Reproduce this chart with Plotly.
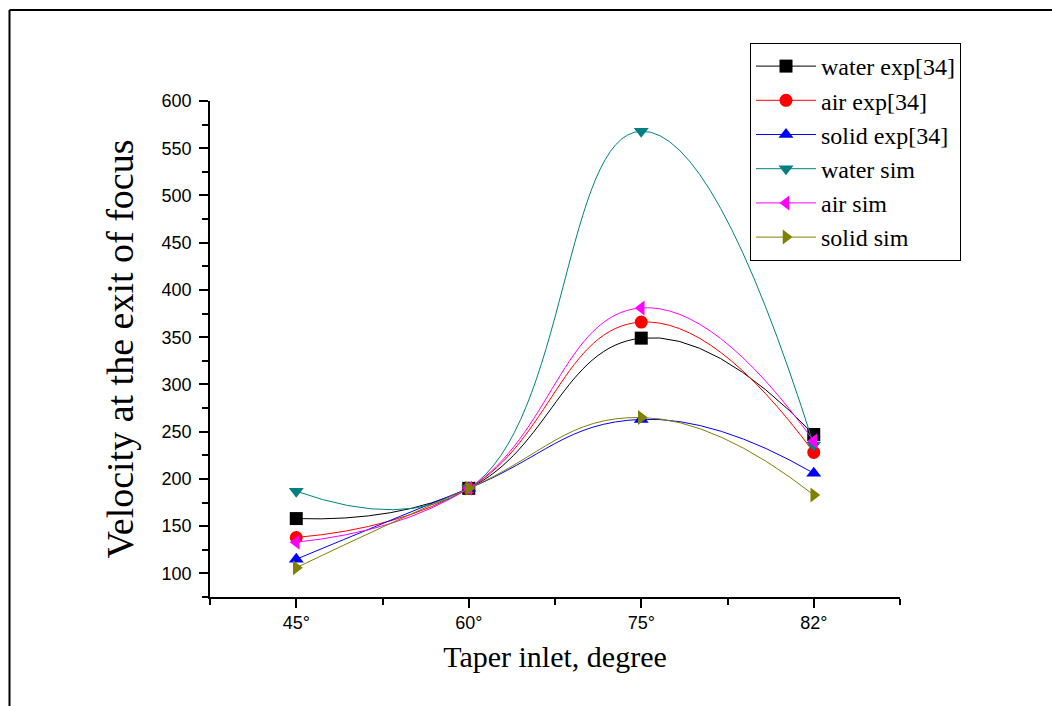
import plotly.graph_objects as go

categories = ["45°", "60°", "75°", "82°"]
x_idx = [0, 1, 2, 3]

water_exp = [158, 190, 349, 247]
air_exp = [138, 190, 366, 228]
solid_exp = [115, 190, 263, 206]
water_sim = [187, 190, 568, 236]
air_sim = [133, 190, 381, 240]
solid_sim = [106, 190, 265, 183]

series = [
    ("water exp[34]", water_exp, "#000000", "square"),
    ("air exp[34]", air_exp, "#FF0000", "circle"),
    ("solid exp[34]", solid_exp, "#0000FF", "triangle-up"),
    ("water sim", water_sim, "#008080", "triangle-down"),
    ("air sim", air_sim, "#FF00FF", "triangle-left"),
    ("solid sim", solid_sim, "#808000", "triangle-right"),
]

fig = go.Figure()
for name, vals, color, sym in series:
    fig.add_trace(go.Scatter(
        x=x_idx, y=vals, name=name, mode="lines+markers",
        line=dict(color=color, width=1, shape="spline", smoothing=1.3),
        marker=dict(color=color, symbol=sym, size=13),
    ))

L, R, T, B = 210, 152, 101, 109
W, H = 1052, 706
pw, ph = W - L - R, H - T - B

fig.update_layout(
    width=W, height=H,
    margin=dict(l=L, r=R, t=T, b=B),
    paper_bgcolor="white", plot_bgcolor="white",
    showlegend=True,
    legend=dict(
        x=(750 - L) / pw, y=(H - B - 43) / ph, xanchor="left", yanchor="top",
        bordercolor="black", borderwidth=1, bgcolor="white",
        font=dict(family="Liberation Serif", size=24, color="black"),
        itemwidth=60, tracegroupgap=0,
    ),
    xaxis=dict(
        range=[-0.5, 3.5], tickmode="array", tickvals=x_idx, ticktext=categories,
        showgrid=False, zeroline=False, showline=True, linecolor="black", linewidth=1.5,
        ticks="outside", ticklen=9, tickwidth=1.5, tickcolor="black",
        minor=dict(tickvals=[-0.5, 0.5, 1.5, 2.5, 3.5], ticks="outside", ticklen=6,
                   tickwidth=1.5, tickcolor="black", showgrid=False),
        tickfont=dict(family="Liberation Sans", size=18, color="black"),
        title=dict(text="Taper inlet, degree",
                   font=dict(family="Liberation Serif", size=30, color="black"),
                   standoff=14),
    ),
    yaxis=dict(
        range=[75, 600], tickmode="array", tickvals=[100, 150, 200, 250, 300, 350, 400, 450, 500, 550, 600],
        showgrid=False, zeroline=False, showline=True, linecolor="black", linewidth=1.5,
        ticks="outside", ticklen=9, tickwidth=1.5, tickcolor="black",
        ticklabelstandoff=4,
        minor=dict(tickvals=[75, 125, 175, 225, 275, 325, 375, 425, 475, 525, 575],
                   ticks="outside", ticklen=6, tickwidth=1.5, tickcolor="black", showgrid=False),
        tickfont=dict(family="Liberation Sans", size=18, color="black"),
        title=dict(text="Velocity at the exit of focus",
                   font=dict(family="Liberation Serif", size=38, color="black"),
                   standoff=16),
    ),
)

# outer frame (top and left edges)
x_left = (9.5 - L) / pw
x_right = (W - L) / pw
y_top = (H - B - 10) / ph
y_bot = (H - B - H) / ph
fig.add_shape(type="line", xref="paper", yref="paper", x0=x_left, x1=x_right, y0=y_top, y1=y_top,
              line=dict(color="black", width=2))
fig.add_shape(type="line", xref="paper", yref="paper", x0=x_left, x1=x_left, y0=y_top, y1=y_bot,
              line=dict(color="black", width=2))

fig.write_html("out.html")
